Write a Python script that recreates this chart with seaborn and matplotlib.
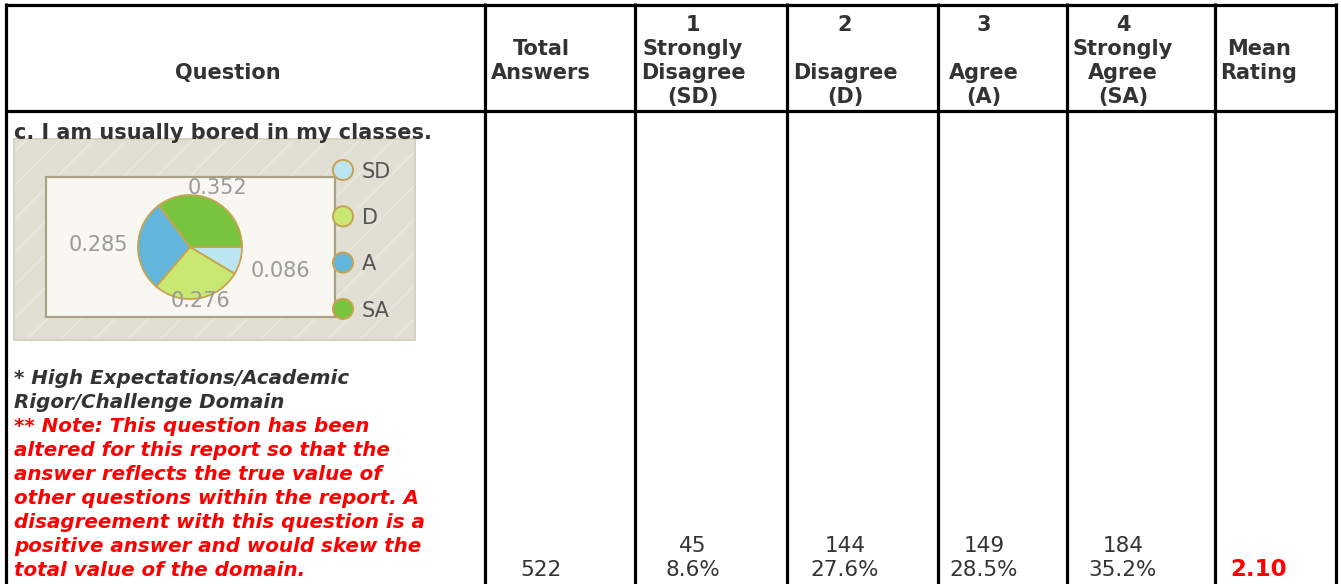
import numpy as np
import matplotlib
matplotlib.use('Agg')
import matplotlib.pyplot as plt
from matplotlib.patches import Rectangle
import seaborn as sns

# --- data ---
categories = ['SD', 'D', 'A', 'SA']
pie_fracs = [0.086, 0.276, 0.285, 0.352]
counts = [45, 144, 149, 184]
percents = ['8.6%', '27.6%', '28.5%', '35.2%']
total_answers = 522
mean_rating = '2.10'
question = 'c. I am usually bored in my classes.'
headers = [['', '', 'Question', ''],
           ['', 'Total', 'Answers', ''],
           ['1', 'Strongly', 'Disagree', '(SD)'],
           ['2', '', 'Disagree', '(D)'],
           ['3', '', 'Agree', '(A)'],
           ['4', 'Strongly', 'Agree', '(SA)'],
           ['', 'Mean', 'Rating', '']]
domain_note = ['* High Expectations/Academic', 'Rigor/Challenge Domain']
red_note = ['** Note: This question has been',
            'altered for this report so that the',
            'answer reflects the true value of',
            'other questions within the report. A',
            'disagreement with this question is a',
            'positive answer and would skew the',
            'total value of the domain.']

pie_colors = ['#BCE5F2', '#C8E872', '#62B5DB', '#79C43F']
W, H = 1341, 584

sns.set_theme(style='white')
plt.rcParams['font.family'] = ['DejaVu Sans']
plt.rcParams['hatch.linewidth'] = 0.8

fig = plt.figure(figsize=(W / 100, H / 100), dpi=100)
ax = fig.add_axes([0, 0, 1, 1])
ax.set_xlim(0, W)
ax.set_ylim(H, 0)
ax.axis('off')

# table grid
col_edges = [6.5, 485.5, 635.5, 787.5, 938.5, 1067.5, 1215.5, 1336.5]
col_centers = [228, 541, 693, 845, 984, 1123, 1259]
for x in col_edges:
    ax.plot([x, x], [3, H], color='black', lw=2.3, solid_capstyle='butt')
ax.plot([5.5, 1337.5], [4.5, 4.5], color='black', lw=2.3, solid_capstyle='butt')
ax.plot([5.5, 1337.5], [111, 111], color='black', lw=2.3, solid_capstyle='butt')

txt = '#333333'


def line(x, yc, s, size=15, ha='center', **kw):
    # yc = visual centre of the line, converted to a baseline
    ax.text(x, yc + 0.365 * size * 100 / 72, s, ha=ha, va='baseline',
            fontsize=size, **kw)


# header
line_y = [23, 47, 71, 95]
for cx, rows in zip(col_centers, headers):
    for yc, s in zip(line_y, rows):
        if s:
            line(cx, yc, s, color=txt, fontweight='bold')

# question title
line(14, 131, question, ha='left', color=txt, fontweight='bold')

# notes
ny = 377
for s in domain_note:
    line(14, ny, s, size=14.3, ha='left', color=txt, fontweight='bold', fontstyle='italic')
    ny += 24
for s in red_note:
    line(14, ny, s, size=14.3, ha='left', color='#FF0000', fontweight='bold', fontstyle='italic')
    ny += 24

# numbers
line(col_centers[1], 568, str(total_answers), size=15.5, color=txt)
for cx, c, p in zip(col_centers[2:6], counts, percents):
    line(cx, 544, str(c), size=15.5, color=txt)
    line(cx, 568, p, size=15.5, color=txt)
line(col_centers[6], 568, mean_rating, size=16.5, color='#FF0000', fontweight='bold')

# chart frame
ax.add_patch(Rectangle((14, 139), 401, 201, facecolor='#E1DFD4', edgecolor='#ECEAE2',
                       hatch='/', lw=0, zorder=1))
ax.add_patch(Rectangle((14, 139), 401, 201, fill=False, edgecolor='#D6D3C2', lw=1.5, zorder=2))
ax.add_patch(Rectangle((46, 177), 289, 140, facecolor='#F8F7F2', edgecolor='#A9A184',
                       lw=1.6, zorder=2))

# legend dots
leg_y = 170 + 46.3 * np.arange(len(categories))
sns.scatterplot(x=np.full(len(categories), 343), y=leg_y, hue=categories,
                palette=dict(zip(categories, pie_colors)), s=210,
                edgecolor='#C9A24F', linewidth=1.4, legend=False, ax=ax, zorder=5)
for yy, c in zip(leg_y, categories):
    line(362, yy, c, size=15, ha='left', color='#555555')
ax.set_xlim(0, W)
ax.set_ylim(H, 0)
ax.axis('off')

# pie
cx, cy, r, box = 190, 247, 52, 100
pax = fig.add_axes([(cx - box) / W, 1 - (cy + box) / H, 2 * box / W, 2 * box / H])
wedges, texts = pax.pie(pie_fracs, colors=pie_colors, startangle=0, counterclock=False,
                        labels=[f'{v:.3f}' for v in pie_fracs], labeldistance=1.2,
                        wedgeprops=dict(edgecolor='#C9A24F', linewidth=1.3),
                        textprops=dict(color='#9A9A9A', fontsize=15))
for t in texts:
    x, y = t.get_position()
    if abs(x) < 0.6:
        t.set_ha('center')
        t.set_y(y * (1.05 if y > 0 else 0.88))
    elif x > 0:
        t.set_y(y - 0.15)
lim = box / r
pax.set_xlim(-lim, lim)
pax.set_ylim(-lim, lim)
pax.axis('off')

fig.savefig('out.png', dpi=100)
